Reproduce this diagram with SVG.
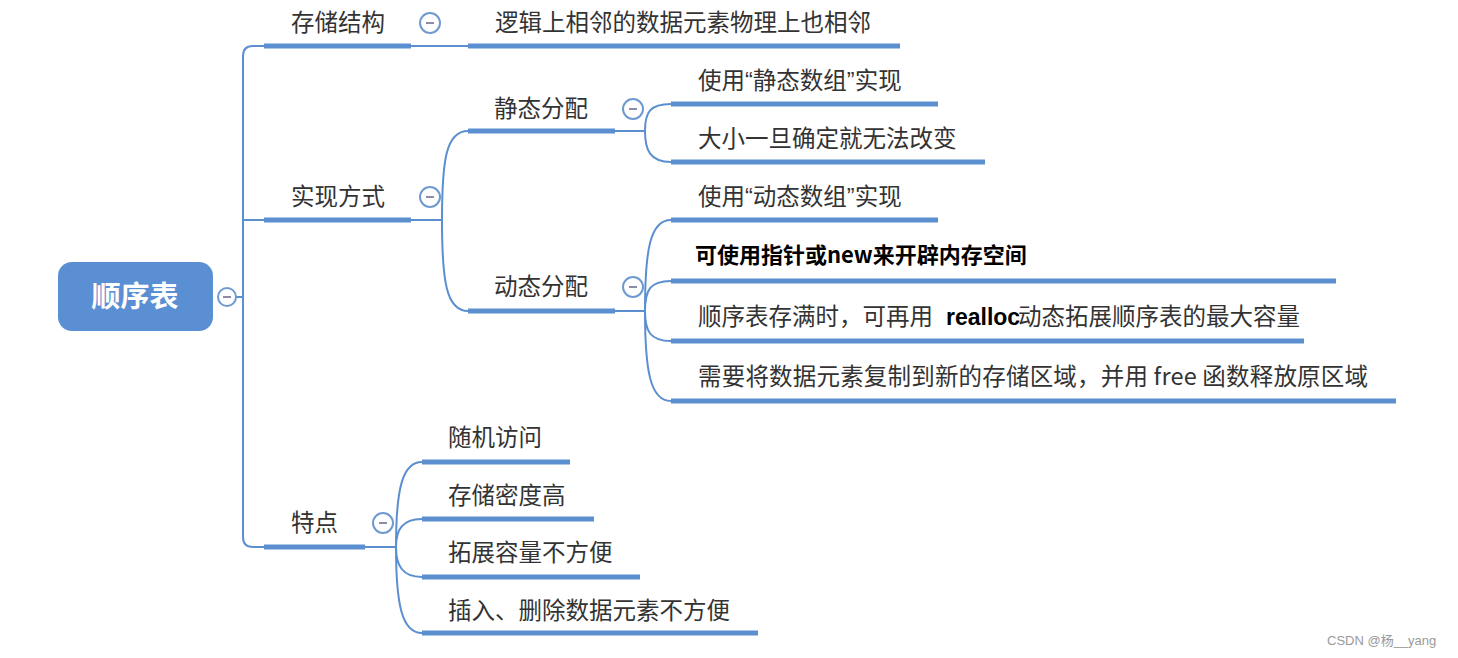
<svg xmlns="http://www.w3.org/2000/svg" width="1458" height="658" viewBox="0 0 1458 658">
<style>
.t{font-family:"Noto Sans CJK SC","Liberation Sans",sans-serif;font-size:23.5px;fill:#333}
.q{font-family:"Liberation Sans",sans-serif}
.b{font-family:"Liberation Sans","Noto Sans CJK SC",sans-serif;font-weight:bold;fill:#000}
.ul{stroke:#5b8fd0;stroke-width:5;fill:none}
.cn{stroke:#5b8fd0;stroke-width:2;fill:none}
.tg circle{fill:#fff;stroke:#6f9ad0;stroke-width:2}
.tg line{stroke:#8c8ca6;stroke-width:2}
</style>
<rect width="1458" height="658" fill="#fff"/>
<g id="connectors">
<path class="cn" d="M236,297 H243"/>
<path class="cn" d="M264,46 H253 Q243,46 243,56 V537 Q243,547 253,547 H264"/>
<path class="cn" d="M243,220 H264"/>
<path class="cn" d="M411,46 H468"/>
<path class="cn" d="M411,220 H442 M442,220 C442,160 446,131 468,131 M442,220 C442,280 446,311 468,311"/>
<path class="cn" d="M615,131 H645 M645,131 C645,112 650,104 671,104 M645,131 C645,150 650,162 671,162"/>
<path class="cn" d="M615,311 H645 M645,311 C645,250 650,220 671,220 M645,311 C645,290 650,281 671,281 M645,311 C645,331 650,341 671,341 M645,311 C645,370 650,401 671,401"/>
<path class="cn" d="M365,547 H396 M396,547 C396,490 402,462 422,462 M396,547 C396,530 402,519 422,519 M396,547 C396,565 402,577 422,577 M396,547 C396,605 402,633 422,633"/>
</g>
<g id="root">
<rect x="58" y="262" width="155" height="69" rx="14" fill="#5b8fd3"/>
<text x="135" y="307" text-anchor="middle" font-family="Noto Sans CJK SC,sans-serif" font-size="29" font-weight="bold" fill="#fff">顺序表</text>
<g class="tg"><circle cx="227" cy="297" r="9"/><line x1="223" y1="297" x2="231" y2="297"/></g>
</g>
<g id="n-storage">
<text class="t" x="291" y="31">存储结构</text>
<path class="ul" d="M264,46 H411"/>
<g class="tg"><circle cx="430" cy="23" r="10"/><line x1="426" y1="23" x2="434" y2="23"/></g>
</g>
<g id="n-storage-1">
<text class="t" x="495" y="31">逻辑上相邻的数据元素物理上也相邻</text>
<path class="ul" d="M468,46 H900"/>
</g>
<g id="n-impl">
<text class="t" x="291" y="205">实现方式</text>
<path class="ul" d="M264,220 H411"/>
<g class="tg"><circle cx="430" cy="197" r="10"/><line x1="426" y1="197" x2="434" y2="197"/></g>
</g>
<g id="n-static">
<text class="t" x="494" y="117">静态分配</text>
<path class="ul" d="M468,131 H615"/>
<g class="tg"><circle cx="633" cy="109" r="10"/><line x1="629" y1="109" x2="637" y2="109"/></g>
</g>
<g id="n-static-1">
<text class="t" x="698" y="89">使用<tspan class="q">“</tspan>静态数组<tspan class="q">”</tspan>实现</text>
<path class="ul" d="M671,104 H938"/>
</g>
<g id="n-static-2">
<text class="t" x="698" y="147">大小一旦确定就无法改变</text>
<path class="ul" d="M671,162 H985"/>
</g>
<g id="n-dynamic">
<text class="t" x="494" y="295">动态分配</text>
<path class="ul" d="M468,311 H615"/>
<g class="tg"><circle cx="633" cy="287" r="10"/><line x1="629" y1="287" x2="637" y2="287"/></g>
</g>
<g id="n-dyn-1">
<text class="t" x="698" y="205">使用<tspan class="q">“</tspan>动态数组<tspan class="q">”</tspan>实现</text>
<path class="ul" d="M671,220 H938"/>
</g>
<g id="n-dyn-2">
<text x="695" y="263" font-family="Noto Sans CJK SC,sans-serif" font-size="22" font-weight="bold" fill="#000">可使用指针或new来开辟内存空间</text>
<path class="ul" d="M671,281 H1336"/>
</g>
<g id="n-dyn-3">
<text class="t" x="698" y="325">顺序表存满时，可再用</text>
<text class="b" x="946" y="325" font-size="23">realloc</text>
<text class="t" x="1018" y="325">动态拓展顺序表的最大容量</text>
<path class="ul" d="M671,341 H1304"/>
</g>
<g id="n-dyn-4">
<text class="t" x="698" y="385" textLength="670">需要将数据元素复制到新的存储区域，并用 free 函数释放原区域</text>
<path class="ul" d="M671,401 H1396"/>
</g>
<g id="n-feature">
<text class="t" x="291" y="531">特点</text>
<path class="ul" d="M264,547 H365"/>
<g class="tg"><circle cx="383" cy="523" r="10"/><line x1="379" y1="523" x2="387" y2="523"/></g>
</g>
<g id="n-feat-1">
<text class="t" x="448" y="446">随机访问</text>
<path class="ul" d="M422,462 H570"/>
</g>
<g id="n-feat-2">
<text class="t" x="448" y="504">存储密度高</text>
<path class="ul" d="M422,519 H594"/>
</g>
<g id="n-feat-3">
<text class="t" x="448" y="561">拓展容量不方便</text>
<path class="ul" d="M422,577 H640"/>
</g>
<g id="n-feat-4">
<text class="t" x="448" y="619">插入、删除数据元素不方便</text>
<path class="ul" d="M422,633 H758"/>
</g>
<text x="1327" y="645" font-family="Liberation Sans,Noto Sans CJK SC,sans-serif" font-size="13" fill="#999">CSDN @杨__yang</text>
</svg>
